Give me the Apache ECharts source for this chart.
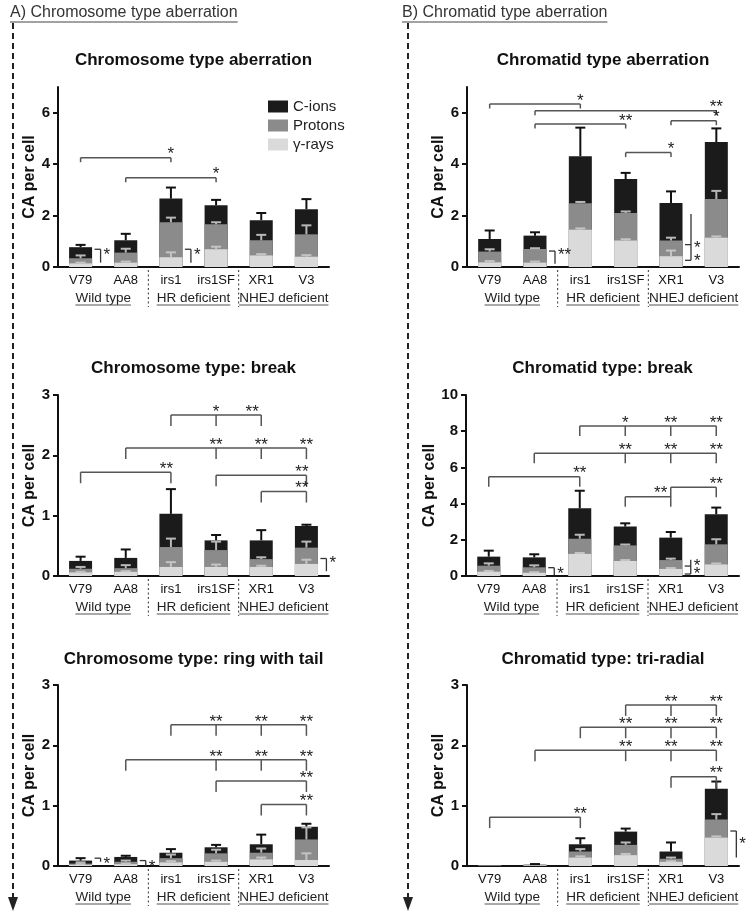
<!DOCTYPE html>
<html><head><meta charset="utf-8">
<script src="https://cdn.jsdelivr.net/npm/echarts@6/dist/echarts.min.js"></script>
<style>html,body{margin:0;padding:0;background:#fff}#c{width:754px;height:921px}</style>
</head><body><div id="c"></div>
<script>
// ---------------- DATA ----------------
const categories = ['V79', 'AA8', 'irs1', 'irs1SF', 'XR1', 'V3'];
const groups = ['Wild type', 'HR deficient', 'NHEJ deficient'];
const seriesNames = ['C-ions', 'Protons', 'γ-rays'];
const panelTitles = ['Chromosome type aberration', 'Chromatid type aberration',
  'Chromosome type: break', 'Chromatid type: break',
  'Chromosome type: ring with tail', 'Chromatid type: tri-radial'];
const headers = ['A) Chromosome type aberration', 'B) Chromatid type aberration'];
const yAxisName = 'CA per cell';
const yMax = [7, 7, 3, 10, 3, 3];
const yTickValues = [[0, 2, 4, 6], [0, 2, 4, 6], [0, 1, 2, 3], [0, 2, 4, 6, 8, 10], [0, 1, 2, 3], [0, 1, 2, 3]];

// Panel 1: Chromosome type aberration
const cIons1 = [0.77, 1.04, 2.66, 2.40, 1.82, 2.25];
const cIonsSd1 = [0.09, 0.25, 0.43, 0.21, 0.28, 0.39];
const protons1 = [0.34, 0.56, 1.74, 1.66, 1.04, 1.27];
const protonsSd1 = [0.11, 0.15, 0.18, 0.08, 0.21, 0.35];
const gamma1 = [0.14, 0.17, 0.38, 0.69, 0.45, 0.40];
const gammaSd1 = [0.03, 0.04, 0.19, 0.10, 0.05, 0.06];
// Panel 2: Chromatid type aberration
const cIons2 = [1.09, 1.22, 4.31, 3.42, 2.49, 4.86];
const cIonsSd2 = [0.33, 0.13, 1.11, 0.24, 0.45, 0.53];
const protons2 = [0.60, 0.70, 2.48, 2.10, 1.03, 2.64];
const protonsSd2 = [0.09, 0.03, 0.05, 0.06, 0.11, 0.32];
const gamma2 = [0.18, 0.17, 1.45, 1.03, 0.42, 1.14];
const gammaSd2 = [0.05, 0.04, 0.05, 0.05, 0.22, 0.05];
// Panel 3: Chromosome type: break
const cIons3 = [0.25, 0.30, 1.03, 0.59, 0.59, 0.83];
const cIonsSd3 = [0.07, 0.14, 0.41, 0.09, 0.17, 0.02];
const protons3 = [0.12, 0.13, 0.48, 0.43, 0.28, 0.47];
const protonsSd3 = [0.03, 0.05, 0.14, 0.14, 0.03, 0.10];
const gamma3 = [0.06, 0.07, 0.15, 0.15, 0.15, 0.20];
const gammaSd3 = [0.01, 0.01, 0.08, 0.04, 0.02, 0.07];
// Panel 4: Chromatid type: break
const cIons4 = [1.07, 1.03, 3.74, 2.73, 2.12, 3.41];
const cIonsSd4 = [0.33, 0.17, 0.97, 0.18, 0.31, 0.37];
const protons4 = [0.57, 0.48, 2.06, 1.69, 0.88, 1.75];
const protonsSd4 = [0.13, 0.11, 0.22, 0.05, 0.08, 0.28];
const gamma4 = [0.24, 0.18, 1.22, 0.83, 0.39, 0.64];
const gammaSd4 = [0.04, 0.03, 0.05, 0.05, 0.05, 0.05];
// Panel 5: Chromosome type: ring with tail
const cIons5 = [0.09, 0.15, 0.22, 0.31, 0.36, 0.65];
const cIonsSd5 = [0.04, 0.02, 0.06, 0.04, 0.16, 0.05];
const protons5 = [0.04, 0.07, 0.13, 0.21, 0.22, 0.44];
const protonsSd5 = [0.02, 0.02, 0.06, 0.06, 0.07, 0.20];
const gamma5 = [0.02, 0.03, 0.06, 0.07, 0.11, 0.10];
const gammaSd5 = [0.01, 0.01, 0.02, 0.02, 0.03, 0.11];
// Panel 6: Chromatid type: tri-radial
const cIons6 = [0.012, 0.022, 0.36, 0.57, 0.24, 1.28];
const cIonsSd6 = [0, 0.01, 0.10, 0.05, 0.15, 0.12];
const protons6 = [0.008, 0.018, 0.24, 0.35, 0.12, 0.77];
const protonsSd6 = [0, 0, 0.04, 0.04, 0.02, 0.09];
const gamma6 = [0.004, 0.01, 0.14, 0.18, 0.07, 0.47];
const gammaSd6 = [0, 0, 0.02, 0.02, 0.01, 0.02];

// significance brackets: y value, category indices with drop ticks, stars [category position, text]
const brackets1 = [
  { y: 4.25, ticks: [0, 2], stars: [[2, '*']] },
  { y: 3.47, ticks: [1, 3], stars: [[3, '*']] }];
const brackets2 = [
  { y: 6.34, ticks: [0, 2], stars: [[2, '*']] },
  { y: 6.08, ticks: [1, 5], stars: [[5, '**']] },
  { y: 5.69, ticks: [4, 5], stars: [[5, '*']] },
  { y: 5.56, ticks: [1, 3], stars: [[3, '**']] },
  { y: 4.45, ticks: [3, 4], stars: [[4, '*']] }];
const brackets3 = [
  { y: 2.67, ticks: [2, 3, 4], stars: [[3, '*'], [3.8, '**']] },
  { y: 2.12, ticks: [1, 3, 4, 5], stars: [[3, '**'], [4, '**'], [5, '**']] },
  { y: 1.72, ticks: [0, 2], stars: [[1.9, '**']] },
  { y: 1.67, ticks: [3, 5], stars: [[4.9, '**']] },
  { y: 1.40, ticks: [4, 5], stars: [[4.9, '**']] }];
const brackets4 = [
  { y: 8.29, ticks: [2, 3, 4, 5], stars: [[3, '*'], [4, '**'], [5, '**']] },
  { y: 6.78, ticks: [1, 3, 4, 5], stars: [[3, '**'], [4, '**'], [5, '**']] },
  { y: 5.49, ticks: [0, 2], stars: [[2, '**']] },
  { y: 4.90, ticks: [4, 5], stars: [[5, '**']] },
  { y: 4.38, ticks: [3, 4], stars: [[3.78, '**']] }];
const brackets5 = [
  { y: 2.34, ticks: [2, 3, 4, 5], stars: [[3, '**'], [4, '**'], [5, '**']] },
  { y: 1.76, ticks: [1, 3, 4, 5], stars: [[3, '**'], [4, '**'], [5, '**']] },
  { y: 1.41, ticks: [3, 5], stars: [[5, '**']] },
  { y: 1.02, ticks: [4, 5], stars: [[5, '**']] }];
const brackets6 = [
  { y: 2.67, ticks: [3, 4, 5], stars: [[4, '**'], [5, '**']] },
  { y: 2.30, ticks: [2, 3, 4, 5], stars: [[3, '**'], [4, '**'], [5, '**']] },
  { y: 1.92, ticks: [1, 3, 4, 5], stars: [[3, '**'], [4, '**'], [5, '**']] },
  { y: 1.48, ticks: [4, 5], stars: [[5, '**']] },
  { y: 0.81, ticks: [0, 2], stars: [[2, '**']] }];
// side brackets (between radiation types within one cell line)
const side1 = [
  { cat: 0, top: 0.69, bottom: 0.17, ticks: [0.69], stars: [[0.62, '*']] },
  { cat: 2, top: 0.69, bottom: 0.17, ticks: [0.69], stars: [[0.62, '*']] }];
const side2 = [
  { cat: 1, top: 0.62, bottom: 0.13, ticks: [0.62], stars: [[0.60, '**']] },
  { cat: 4, top: 2.06, bottom: 0.26, ticks: [0.87, 0.26], stars: [[0.87, '*'], [0.36, '*']] }];
const side3 = [
  { cat: 5, top: 0.29, bottom: 0.08, ticks: [0.29], stars: [[0.27, '*']] }];
const side4 = [
  { cat: 1, top: 0.46, bottom: 0.06, ticks: [0.46], stars: [[0.33, '*']] },
  { cat: 4, top: 0.90, bottom: 0.11, ticks: [0.55, 0.11], stars: [[0.74, '*'], [0.30, '*']] }];
const side5 = [
  { cat: 0, top: 0.13, bottom: 0.07, ticks: [0.13], stars: [[0.09, '*']] },
  { cat: 1, top: 0.09, bottom: 0.0, ticks: [0.09], stars: [[0.05, '*']] }];
const side6 = [
  { cat: 5, top: 0.58, bottom: 0.14, ticks: [0.58], stars: [[0.43, '*']] }];

// ---------------- ASSEMBLY ----------------
const panels = [
  { c: cIons1, cs: cIonsSd1, p: protons1, ps: protonsSd1, g: gamma1, gs: gammaSd1, br: brackets1, sb: side1 },
  { c: cIons2, cs: cIonsSd2, p: protons2, ps: protonsSd2, g: gamma2, gs: gammaSd2, br: brackets2, sb: side2 },
  { c: cIons3, cs: cIonsSd3, p: protons3, ps: protonsSd3, g: gamma3, gs: gammaSd3, br: brackets3, sb: side3 },
  { c: cIons4, cs: cIonsSd4, p: protons4, ps: protonsSd4, g: gamma4, gs: gammaSd4, br: brackets4, sb: side4 },
  { c: cIons5, cs: cIonsSd5, p: protons5, ps: protonsSd5, g: gamma5, gs: gammaSd5, br: brackets5, sb: side5 },
  { c: cIons6, cs: cIonsSd6, p: protons6, ps: protonsSd6, g: gamma6, gs: gammaSd6, br: brackets6, sb: side6 }];

const layout = [
  { left: 58, top: 87, width: 271, height: 180 },
  { left: 467, top: 87, width: 272, height: 180 },
  { left: 58, top: 395, width: 271, height: 181 },
  { left: 466, top: 395, width: 273, height: 181 },
  { left: 58, top: 685, width: 271, height: 181 },
  { left: 467, top: 685, width: 272, height: 181 }];
const titleY = [60, 60, 368, 368, 659, 659];
const dropPx = [4.5, 4.5, 11, 10, 11, 11];
const colors = ['#1b1b1b', '#8b8b8b', '#dadada'];
const errColors = ['#111111', '#b8b8b8', '#c4c4c4'];
const FONT = '"Liberation Sans", Arial, sans-serif';

const grids = [], xAxes = [], yAxes = [], series = [], graphics = [];

const measure = (() => { const cv = document.createElement('canvas').getContext('2d');
  return (txt, font) => { cv.font = font; return cv.measureText(txt).width; }; })();

panels.forEach((pn, k) => {
  const L = layout[k];
  grids.push({ left: L.left, top: L.top, width: L.width, height: L.height, containLabel: false, outerBoundsMode: 'none' });
  xAxes.push({
    gridIndex: k, type: 'category', data: categories,
    axisLine: { lineStyle: { color: '#111', width: 2 } },
    axisTick: { alignWithLabel: true, length: 5, lineStyle: { color: '#111', width: 2 } },
    axisLabel: { interval: 0, margin: 7, fontSize: 13, fontFamily: FONT, color: '#111', hideOverlap: false }
  });
  yAxes.push({
    gridIndex: k, type: 'value', min: 0, max: yMax[k],
    name: yAxisName, nameLocation: 'middle', nameGap: 15,
    nameTextStyle: { fontSize: 16, fontWeight: 'bold', color: '#111', fontFamily: FONT },
    axisLine: { show: true, lineStyle: { color: '#111', width: 2 } },
    axisTick: { show: true, length: 5, lineStyle: { color: '#111', width: 2 }, customValues: yTickValues[k] },
    axisLabel: { fontSize: 15, fontWeight: 'bold', color: '#111', fontFamily: FONT, margin: 8, customValues: yTickValues[k] },
    splitLine: { show: false }
  });
  const vals = [pn.c, pn.p, pn.g];
  const sds = [pn.cs, pn.ps, pn.gs];
  vals.forEach((v, s) => {
    series.push({
      type: 'bar', name: seriesNames[s], xAxisIndex: k, yAxisIndex: k,
      data: v, barWidth: 23, barGap: '-100%', z: 2 + s * 0.1,
      itemStyle: { color: colors[s] }, silent: true, animation: false
    });
  });
  // error bars
  const errData = [];
  vals.forEach((v, s) => v.forEach((val, i) => { if (sds[s][i] > 0) errData.push([i, val, sds[s][i], s]); }));
  series.push({
    type: 'custom', xAxisIndex: k, yAxisIndex: k, data: errData, z: 5, silent: true, animation: false,
    encode: { x: 0, y: 1 },
    renderItem: (params, api) => {
      const x = api.value(0), v = api.value(1), e = api.value(2), t = api.value(3);
      const p0 = api.coord([x, v]), p1 = api.coord([x, v + e]);
      const st = { stroke: errColors[t], lineWidth: 2 };
      return { type: 'group', children: [
        { type: 'line', shape: { x1: p0[0], y1: p0[1], x2: p1[0], y2: p1[1] }, style: st },
        { type: 'line', shape: { x1: p1[0] - 5, y1: p1[1], x2: p1[0] + 5, y2: p1[1] }, style: st }] };
    }
  });
  // significance brackets
  series.push({
    type: 'custom', xAxisIndex: k, yAxisIndex: k, data: pn.br.map(b => [b.ticks[0], b.y]), z: 6, silent: true,
    animation: false, clip: false, encode: { x: 0, y: 1 },
    renderItem: (params, api) => {
      const b = pn.br[params.dataIndex];
      const y = api.coord([0, b.y])[1];
      const xs = b.ticks.map(t => api.coord([t, 0])[0]);
      const st = { stroke: '#555', lineWidth: 1.5 };
      const ch = [{ type: 'line', shape: { x1: xs[0], y1: y, x2: xs[xs.length - 1], y2: y }, style: st }];
      xs.forEach(x => ch.push({ type: 'line', shape: { x1: x, y1: y, x2: x, y2: y + dropPx[k] }, style: st }));
      const cw = layout[k].width / categories.length;
      b.stars.forEach(([t, s]) => ch.push({ type: 'text', style: {
        text: s, x: api.coord([0, 0])[0] + t * cw, y: y - 3, textAlign: 'center', align: 'center',
        textVerticalAlign: 'middle', verticalAlign: 'middle', font: '17px ' + FONT, fill: '#222' } }));
      return { type: 'group', children: ch };
    }
  });
  // side brackets
  series.push({
    type: 'custom', xAxisIndex: k, yAxisIndex: k, data: pn.sb.map(b => [b.cat, b.top]), z: 6, silent: true,
    animation: false, clip: false, encode: { x: 0, y: 1 },
    renderItem: (params, api) => {
      const b = pn.sb[params.dataIndex];
      const x = api.coord([b.cat, 0])[0] + 20;
      const yt = api.coord([b.cat, b.top])[1], yb = api.coord([b.cat, b.bottom])[1];
      const st = { stroke: '#333', lineWidth: 1.3 };
      const ch = [{ type: 'line', shape: { x1: x, y1: yt, x2: x, y2: yb }, style: st }];
      b.ticks.forEach(t => { const yy = api.coord([b.cat, t])[1];
        ch.push({ type: 'line', shape: { x1: x - 6, y1: yy, x2: x, y2: yy }, style: st }); });
      b.stars.forEach(([v, s]) => ch.push({ type: 'text', style: {
        text: s, x: x + 3, y: api.coord([b.cat, v])[1] + 4, textAlign: 'left', align: 'left',
        textVerticalAlign: 'middle', verticalAlign: 'middle', font: '17px ' + FONT, fill: '#222' } }));
      return { type: 'group', children: ch };
    }
  });

  // panel title
  graphics.push({ type: 'text', x: L.left + L.width / 2, y: titleY[k],
    style: { text: panelTitles[k], font: 'bold 17px ' + FONT, fill: '#111', textAlign: 'center', textVerticalAlign: 'middle', align: 'center', verticalAlign: 'middle' } });
  // group labels, underlines and separators
  const cw = L.width / categories.length;
  const axisY = L.top + L.height;
  groups.forEach((gname, gi) => {
    const cx = L.left + cw * (2 * gi + 1);
    const f = '13.5px ' + FONT;
    const w = measure(gname, f);
    graphics.push({ type: 'text', x: cx, y: axisY + 31,
      style: { text: gname, font: f, fill: '#222', textAlign: 'center', textVerticalAlign: 'middle', align: 'center', verticalAlign: 'middle' } });
    graphics.push({ type: 'line', shape: { x1: cx - w / 2, y1: axisY + 38, x2: cx + w / 2, y2: axisY + 38 },
      style: { stroke: '#555', lineWidth: 1 } });
  });
  [2, 4].forEach(ci => {
    const sx = L.left + cw * ci;
    graphics.push({ type: 'line', shape: { x1: sx, y1: axisY + 3, x2: sx, y2: axisY + 40 },
      style: { stroke: '#333', lineWidth: 1, lineDash: [2, 2.5] } });
  });
});

// headers and dashed arrows
[[10, 13], [402, 408]].forEach(([hx, ax], i) => {
  const f = '16px ' + FONT;
  const w = measure(headers[i], f);
  graphics.push({ type: 'text', x: hx, y: 13,
    style: { text: headers[i], font: f, fill: '#333', textAlign: 'left', align: 'left', textVerticalAlign: 'middle', verticalAlign: 'middle' } });
  graphics.push({ type: 'line', shape: { x1: hx, y1: 22, x2: hx + w, y2: 22 }, style: { stroke: '#444', lineWidth: 1 } });
  graphics.push({ type: 'line', shape: { x1: ax, y1: 23, x2: ax, y2: 898 }, style: { stroke: '#222', lineWidth: 2, lineDash: [6, 4] } });
  graphics.push({ type: 'polygon', shape: { points: [[ax - 5, 897], [ax + 5, 897], [ax, 911]] }, style: { fill: '#222' } });
});

const chart = echarts.init(document.getElementById('c'), null, { renderer: 'canvas', width: 754, height: 921 });
chart.setOption({
  animation: false,
  backgroundColor: '#fff',
  grid: grids, xAxis: xAxes, yAxis: yAxes, series: series,
  legend: {
    data: seriesNames, orient: 'vertical', left: 263, top: 94, itemWidth: 20, itemHeight: 12, itemGap: 4,
    icon: 'rect', selectedMode: false,
    textStyle: { fontSize: 15, fontFamily: FONT, color: '#222' }
  },
  graphic: graphics
});
</script></body></html>
